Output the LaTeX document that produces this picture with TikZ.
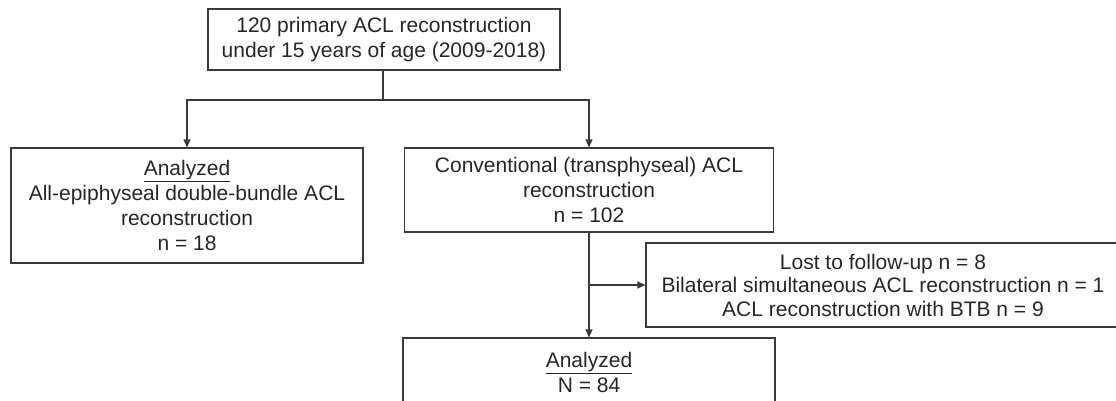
\documentclass[tikz,border=0pt]{standalone}
\usepackage{fontspec}
\setmainfont{Liberation Sans}
\usetikzlibrary{arrows.meta}
\definecolor{linec}{HTML}{3A3A3A}
\definecolor{textc}{HTML}{262626}
\tikzset{
  box/.style={draw=linec, line width=1.1pt, inner sep=0pt, align=center, text=textc,
    font=\fontsize{21}{25}\selectfont},
  arr/.style={draw=linec, line width=1.1pt, -{Triangle[length=8pt,width=7pt]}},
  ln/.style={draw=linec, line width=1.1pt}
}
\begin{document}
\begin{tikzpicture}[x=1pt,y=-1pt]
\useasboundingbox (0,0) rectangle (1116,400);
\clip (0,0) rectangle (1116,400);
\node[box, minimum width=352pt, minimum height=61pt] (top) at (384,39.5)
  {120 primary ACL reconstruction\\under 15 years of age (2009-2018)};
\node[box, minimum width=352pt, minimum height=115pt] (left) at (187,205.5)
  {\underline{Analyzed}\\All-epiphyseal double-bundle ACL\\reconstruction\\n = 18};
\node[box, minimum width=369pt, minimum height=84pt] (mid) at (589,190)
  {Conventional (transphyseal) ACL\\reconstruction\\n = 102};
\node[box, minimum width=474pt, minimum height=84pt, font=\fontsize{21}{23.5}\selectfont] (side) at (883,285)
  {Lost to follow-up n = 8\\Bilateral simultaneous ACL reconstruction n = 1\\ACL reconstruction with BTB n = 9};
\node[box, minimum width=372pt, minimum height=68pt] (bot) at (589,372)
  {\underline{Analyzed}\\N = 84};
\coordinate (j) at (383,100);
\draw[ln] (top.south -| j) -- (j);
\draw[arr] (j) -| (left.north);
\draw[arr] (j) -| (mid.north);
\draw[arr] (mid.south) -- (bot.north);
\draw[arr] (mid.south |- side.west) -- (side.west);
\end{tikzpicture}
\end{document}
